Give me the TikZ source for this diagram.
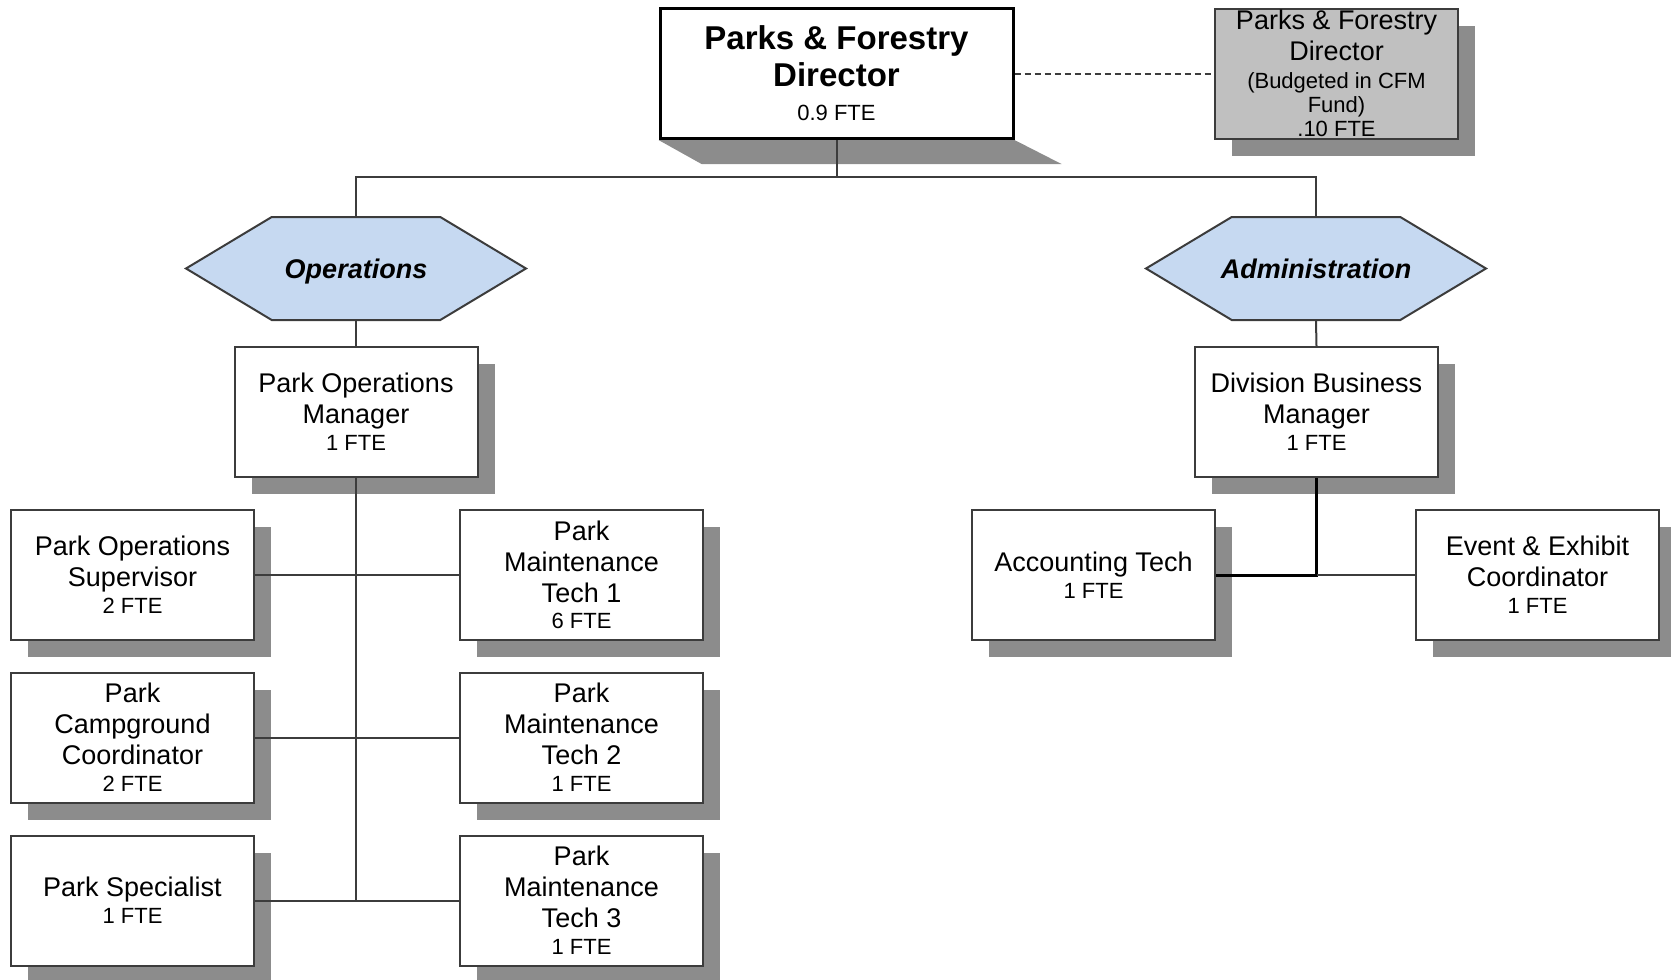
\documentclass[tikz,border=0pt]{standalone}
\usepackage{fontspec}
\setmainfont{Liberation Sans}
\usetikzlibrary{shapes.symbols,shadows,backgrounds,positioning}
\definecolor{linegray}{HTML}{3C3C3C}
\definecolor{shadegray}{HTML}{8C8C8C}
\definecolor{hexblue}{HTML}{C6D9F1}
\definecolor{cfmgray}{HTML}{C0C0C0}
\newcommand{\fte}[1]{{\fontsize{11}{12}\selectfont #1}}

\begin{document}
\begin{tikzpicture}[x=0.5pt, y=-0.5pt,
  every node/.style={font=\fontsize{13.5}{15.5}\selectfont},
  box/.style={rectangle, draw=linegray, line width=1pt, fill=white, minimum width=121.5pt, minimum height=65pt, inner sep=0pt, align=center},
  post/.style={box, drop shadow={shadow xshift=8.5pt, shadow yshift=-8.5pt, fill=shadegray, opacity=1}},
  cfmpost/.style={post, fill=cfmgray, inner ysep=-4pt},
  toppost/.style={box, draw=black, line width=1.5pt, minimum width=176.5pt, font=\fontsize{16.5}{18.5}\selectfont\bfseries},
  unit/.style={signal, signal to=west and east, signal pointer angle=62, draw=linegray, line width=1pt, fill=hexblue, minimum width=170pt, minimum height=51.5pt, inner ysep=0pt, inner xsep=-8pt, text depth=0pt, font=\fontsize{13.5}{15.5}\selectfont\bfseries\itshape},
  conn/.style={draw=linegray, line width=1pt},
  keyconn/.style={draw=black, line width=1.5pt}
]
\useasboundingbox (0,0) rectangle (1671,980);

% Director
\node[toppost] (dir) at (836.5,73.5) {Parks \& Forestry\\Director\\[-1.5pt]\fte{\mdseries 0.9 FTE}};
\node[cfmpost] (cfm) at (1336.5,73.5) {Parks \& Forestry\\Director\\[-1.5pt]\fte{(Budgeted in CFM}\\[-3.5pt]\fte{Fund)}\\[-3.5pt]\fte{.10 FTE}};
\begin{scope}[on background layer]
\fill[shadegray] (dir.south west) -- (dir.south east) -- ++(47,24) -- ++(-360,0) -- cycle;
\end{scope}
% Units
\node[unit] (ops) at (356,268.5) {Operations};
\node[unit] (adm) at (1316,268.5) {Administration};
% Managers
\node[post] (pom) at (356,412) {Park Operations\\Manager\\[-2.2pt]\fte{1 FTE}};
\node[post] (dbm) at (1316.5,412) {Division Business\\Manager\\[-2.2pt]\fte{1 FTE}};
% Operations staff
\node[post] (sup) at (132.5,575) {Park Operations\\Supervisor\\[-2.2pt]\fte{2 FTE}};
\node[post] (camp) at (132.5,737.5) {Park\\Campground\\Coordinator\\[-2.2pt]\fte{2 FTE}};
\node[post] (spec) at (132.5,900.5) {Park Specialist\\[-2.2pt]\fte{1 FTE}};
\node[post] (mt1) at (581.5,575) {Park\\Maintenance\\Tech 1\\[-2.2pt]\fte{6 FTE}};
\node[post] (mt2) at (581.5,737.5) {Park\\Maintenance\\Tech 2\\[-2.2pt]\fte{1 FTE}};
\node[post] (mt3) at (581.5,900.5) {Park\\Maintenance\\Tech 3\\[-2.2pt]\fte{1 FTE}};
% Administration staff
\node[post] (acct) at (1093.5,575) {Accounting Tech\\[-2.2pt]\fte{1 FTE}};
\node[post] (evt) at (1537.5,575) {Event \& Exhibit\\Coordinator\\[-2.2pt]\fte{1 FTE}};

% Connectors
\draw[conn] (dir.south) -- ++(0,37) coordinate (bus);
\draw[conn] (ops.north) |- (bus) -| (adm.north);
\draw[conn, dash pattern=on 3pt off 2pt] (dir.east) -- (cfm.west);
\draw[conn] (ops.south) -- (pom.north);
\draw[conn] (adm.south) -- (dbm.north);
\draw[conn] (pom.south) -- (pom.south |- spec.east);
\draw[conn] (sup.east) -- (mt1.west);
\draw[conn] (camp.east) -- (mt2.west);
\draw[conn] (spec.east) -- (mt3.west);
\draw[keyconn] (dbm.south) |- (acct.east);
\draw[conn] (dbm.south |- evt.west) -- (evt.west);

\end{tikzpicture}
\end{document}
